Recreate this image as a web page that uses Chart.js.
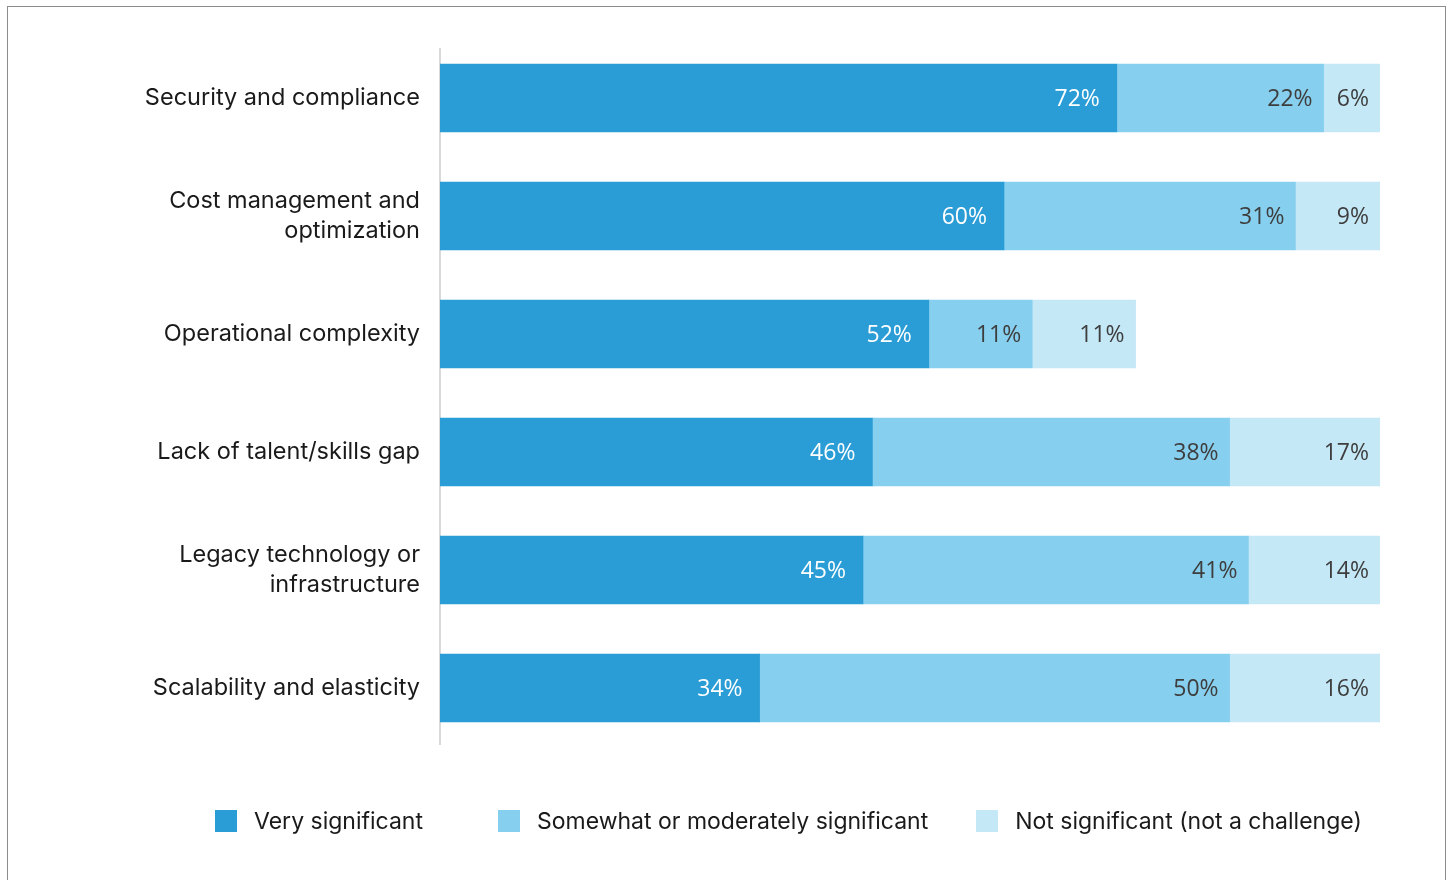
<!DOCTYPE html>
<html>
<head>
<meta charset="utf-8">
<script src="https://cdn.jsdelivr.net/npm/chart.js@4.4.1/dist/chart.umd.min.js"></script>
<style>
  html, body { margin: 0; padding: 0; background: #fff; }
  body { width: 1453px; height: 880px; position: relative; overflow: hidden; font-family: "Inter", "Noto Sans", sans-serif; }
  #frame { position: absolute; left: 7px; top: 6px; width: 1439px; height: 900px; border: 1px solid #8c8c8c; box-sizing: border-box; }
  #wrap { position: absolute; left: 0; top: 0; width: 1453px; height: 880px; }
  #legend { position: absolute; top: 807px; left: 215px; display: flex; align-items: center; font-size: 23px; color: #1a1a1a; }
  .item { display: flex; align-items: center; }
  .swatch { width: 22px; height: 22px; margin-right: 17px; }
</style>
</head>
<body>
<div id="frame"></div>
<div id="wrap"><canvas id="c" width="1453" height="880"></canvas></div>
<div id="legend"></div>
<script>
// Challenges, ranked by share of respondents calling them "very significant"
const categories = [
  "Security and compliance",
  ["Cost management and", "optimization"],
  "Operational complexity",
  "Lack of talent/skills gap",
  ["Legacy technology or", "infrastructure"],
  "Scalability and elasticity"
];
const seriesNames = [
  "Very significant",
  "Somewhat or moderately significant",
  "Not significant (not a challenge)"
];
const verySignificant = [72, 60, 52, 46, 45, 34];
const somewhatSignificant = [22, 31, 11, 38, 41, 50];
const notSignificant = [6, 9, 11, 17, 14, 16];
const seriesColors = ["#2a9cd6", "#87cfee", "#c5e8f7"];
const labelColors = ["#ffffff", "#3d3d3d", "#3d3d3d"];

const seriesValues = [verySignificant, somewhatSignificant, notSignificant];

// Percent labels at the right end of each segment
const valueLabels = {
  id: "valueLabels",
  afterDatasetsDraw(chart) {
    const ctx = chart.ctx;
    const area = chart.chartArea;
    ctx.save();
    ctx.font = "23px 'Open Sans', 'Noto Sans', sans-serif";
    ctx.textAlign = "right";
    ctx.textBaseline = "middle";
    chart.data.datasets.forEach((ds, di) => {
      const meta = chart.getDatasetMeta(di);
      meta.data.forEach((bar, i) => {
        const right = Math.min(bar.x, area.right);
        ctx.fillStyle = labelColors[di];
        ctx.fillText(ds.data[i] + "%", right - (di === 0 ? 17 : 11), bar.y + 1);
      });
    });
    ctx.restore();
  }
};

// Thin vertical baseline at the start of the bars
const baseline = {
  id: "baseline",
  beforeDatasetsDraw(chart) {
    const ctx = chart.ctx;
    const x = chart.scales.x.getPixelForValue(0);
    ctx.save();
    ctx.strokeStyle = "#d9d9d9";
    ctx.lineWidth = 2;
    ctx.beginPath();
    ctx.moveTo(x, chart.chartArea.top + 9);
    ctx.lineTo(x, chart.chartArea.bottom - 2);
    ctx.stroke();
    ctx.restore();
  }
};

new Chart(document.getElementById("c"), {
  type: "bar",
  data: {
    labels: categories,
    datasets: seriesValues.map((vals, i) => ({
      label: seriesNames[i],
      data: vals,
      backgroundColor: seriesColors[i],
      borderWidth: 0,
      barThickness: 68
    }))
  },
  options: {
    indexAxis: "y",
    responsive: false,
    animation: false,
    layout: { padding: { left: 0, right: 73, top: 39, bottom: 133 } },
    plugins: { legend: { display: false }, tooltip: { enabled: false } },
    scales: {
      x: {
        stacked: true,
        min: 0,
        max: 100,
        display: false
      },
      y: {
        stacked: true,
        grid: { display: false, drawTicks: false },
        border: { display: false },
        afterFit(scale) { scale.width = 440; },
        ticks: {
          padding: 20,
          color: "#1a1a1a",
          font: { family: "Inter, 'Noto Sans', sans-serif", size: 23.5, lineHeight: 1.24 }
        }
      }
    }
  },
  plugins: [baseline, valueLabels]
});

// Legend row beneath the chart
const legend = document.getElementById("legend");
seriesNames.forEach((name, i) => {
  const item = document.createElement("div");
  item.className = "item";
  if (i > 0) item.style.marginLeft = (i === 1 ? 75 : 48) + "px";
  const sw = document.createElement("div");
  sw.className = "swatch";
  sw.style.background = seriesColors[i];
  const tx = document.createElement("span");
  tx.textContent = name;
  item.appendChild(sw);
  item.appendChild(tx);
  legend.appendChild(item);
});
</script>
</body>
</html>
